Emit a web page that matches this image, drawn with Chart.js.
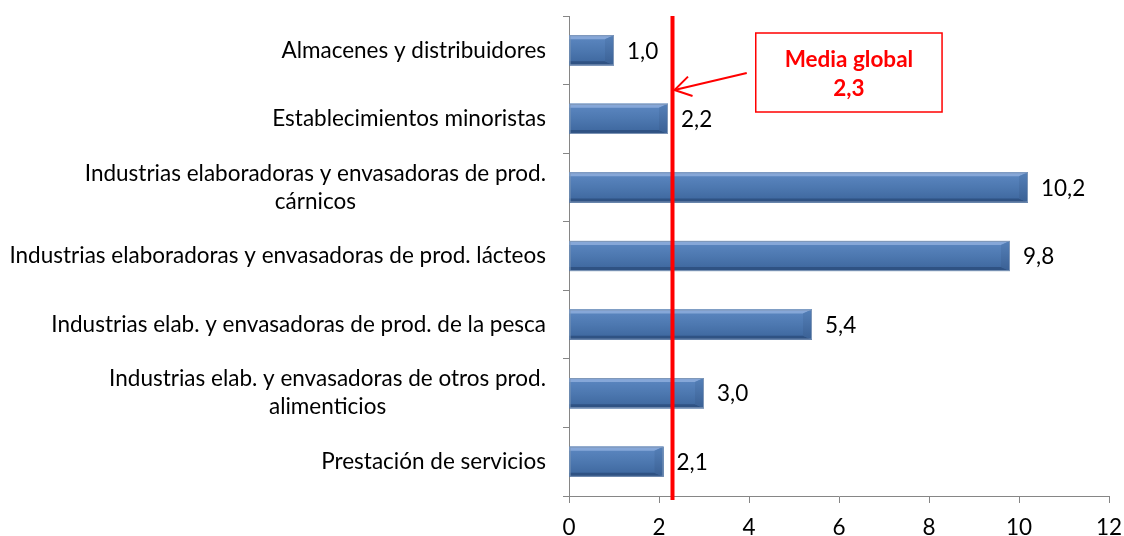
<!DOCTYPE html>
<html>
<head>
<meta charset="utf-8">
<script src="https://cdn.jsdelivr.net/npm/chart.js@4.4.1/dist/chart.umd.min.js"></script>
<style>
  html, body { margin: 0; padding: 0; background: #ffffff; }
  #wrap { width: 1124px; height: 536px; }
</style>
</head>
<body>
<div id="wrap"><canvas id="c" width="1124" height="536"></canvas></div>
<script>
// ---- data ----
const categories = [
  ['Almacenes y distribuidores'],
  ['Establecimientos minoristas'],
  ['Industrias elaboradoras y envasadoras de prod.', 'cárnicos'],
  ['Industrias elaboradoras y envasadoras de prod. lácteos'],
  ['Industrias elab. y envasadoras de prod. de la pesca'],
  ['Industrias elab. y envasadoras de otros prod.', 'alimenticios'],
  ['Prestación de servicios']
];
const values = [1.0, 2.2, 10.2, 9.8, 5.4, 3.0, 2.1];
const valueLabels = ['1,0', '2,2', '10,2', '9,8', '5,4', '3,0', '2,1'];
const xTickValues = [0, 2, 4, 6, 8, 10, 12];
const mediaGlobal = 2.3;
const mediaText = ['Media global', '2,3'];

const FONT = 'Lato, "Open Sans", sans-serif';
const FS = 22.5;

const barStyle = {
  id: 'barStyle',
  afterDatasetsDraw(chart) {
    const ctx = chart.ctx;
    const meta = chart.getDatasetMeta(0);
    meta.data.forEach((bar, i) => {
      const { x, y, base, height } = bar.getProps(['x', 'y', 'base', 'height'], true);
      const top = y - height / 2, bot = y + height / 2;
      const left = Math.min(base, x), right = Math.max(base, x);
      const bv = 4, bh = Math.min(9, (right - left) / 3);
      ctx.save();
      // main face
      const g = ctx.createLinearGradient(0, top, 0, bot);
      g.addColorStop(0, '#5d88c2');
      g.addColorStop(0.5, '#4d78b0');
      g.addColorStop(1, '#3c659c');
      ctx.fillStyle = g;
      ctx.fillRect(left, top, right - left, height);
      // top bevel
      ctx.beginPath();
      ctx.moveTo(left, top); ctx.lineTo(right, top);
      ctx.lineTo(right - bh, top + bv); ctx.lineTo(left, top + bv); ctx.closePath();
      ctx.fillStyle = '#86a7d8'; ctx.fill();
      // bottom bevel
      ctx.beginPath();
      ctx.moveTo(left, bot); ctx.lineTo(right, bot);
      ctx.lineTo(right - bh, bot - bv); ctx.lineTo(left, bot - bv); ctx.closePath();
      ctx.fillStyle = '#2f5283'; ctx.fill();
      // right bevel
      ctx.beginPath();
      ctx.moveTo(right, top); ctx.lineTo(right, bot);
      ctx.lineTo(right - bh, bot - bv); ctx.lineTo(right - bh, top + bv); ctx.closePath();
      const gr = ctx.createLinearGradient(0, top, 0, bot);
      gr.addColorStop(0, '#5580b8'); gr.addColorStop(1, '#3a6094');
      ctx.fillStyle = gr; ctx.fill();
      // outline
      ctx.strokeStyle = '#7f97b8';
      ctx.lineWidth = 1;
      ctx.strokeRect(left + 0.5, top + 0.5, right - left - 1, height - 1);
      ctx.restore();

      // value label
      ctx.save();
      ctx.font = FS + 'px ' + FONT;
      ctx.fillStyle = '#000';
      ctx.textAlign = 'left';
      ctx.textBaseline = 'middle';
      ctx.fillText(valueLabels[i], right + 13, y + 1);
      ctx.restore();
    });
  }
};

const catLabels = {
  id: 'catLabels',
  afterDraw(chart) {
    const ctx = chart.ctx;
    const ys = chart.scales.y;
    const rightEdge = ys.right - 23;
    ctx.save();
    ctx.font = FS + 'px ' + FONT;
    ctx.fillStyle = '#000';
    ctx.textBaseline = 'middle';
    categories.forEach((lines, i) => {
      const cy = ys.getPixelForValue(i);
      const widths = lines.map(l => ctx.measureText(l).width);
      const w = Math.max(...widths);
      const cx = rightEdge - w / 2;
      const lh = 28;
      lines.forEach((l, k) => {
        const ly = cy + (k - (lines.length - 1) / 2) * lh;
        ctx.textAlign = 'center';
        ctx.fillText(l, cx, ly);
      });
    });
    ctx.restore();
  }
};

const mediaLine = {
  id: 'mediaLine',
  afterDraw(chart) {
    const ctx = chart.ctx;
    const xs = chart.scales.x;
    const area = chart.chartArea;
    const lx = xs.getPixelForValue(mediaGlobal);
    ctx.save();
    ctx.strokeStyle = '#ff0000';
    ctx.lineWidth = 4;
    ctx.beginPath();
    ctx.moveTo(lx, area.top);
    ctx.lineTo(lx, area.bottom + 4);
    ctx.stroke();

    // annotation box
    const bx1 = xs.getPixelForValue(4.15), bx2 = xs.getPixelForValue(8.29);
    const by1 = area.top + 17, by2 = area.top + 96;
    ctx.fillStyle = '#ffffff';
    ctx.fillRect(bx1, by1, bx2 - bx1, by2 - by1);
    ctx.lineWidth = 1.5;
    ctx.strokeRect(bx1, by1, bx2 - bx1, by2 - by1);
    ctx.fillStyle = '#ff0000';
    ctx.font = 'bold ' + FS + 'px ' + FONT;
    ctx.textAlign = 'center';
    ctx.textBaseline = 'middle';
    const tcx = (bx1 + bx2) / 2;
    ctx.fillText(mediaText[0], tcx, area.top + 44);
    ctx.fillText(mediaText[1], tcx, area.top + 73);

    // arrow
    const ax1 = bx1 - 9, ay1 = area.top + 57;
    const ax2 = lx + 2, ay2 = area.top + 74;
    ctx.lineWidth = 2;
    ctx.beginPath();
    ctx.moveTo(ax1, ay1);
    ctx.lineTo(ax2, ay2);
    ctx.stroke();
    const ang = Math.atan2(ay2 - ay1, ax2 - ax1);
    const L = 19, spread = 0.55;
    ctx.beginPath();
    ctx.moveTo(ax2 - L * Math.cos(ang - spread), ay2 - L * Math.sin(ang - spread));
    ctx.lineTo(ax2, ay2);
    ctx.lineTo(ax2 - L * Math.cos(ang + spread), ay2 - L * Math.sin(ang + spread));
    ctx.stroke();
    ctx.restore();
  }
};

new Chart(document.getElementById('c'), {
  type: 'bar',
  data: {
    labels: categories,
    datasets: [{
      data: values,
      backgroundColor: '#4f81bd',
      borderWidth: 0,
      barPercentage: 0.44,
      categoryPercentage: 1.0
    }]
  },
  options: {
    indexAxis: 'y',
    responsive: false,
    animation: false,
    events: [],
    layout: { padding: { top: 16, right: 15, left: 0, bottom: 0 } },
    plugins: { legend: { display: false }, tooltip: { enabled: false } },
    scales: {
      x: {
        min: 0, max: 12,
        afterBuildTicks(scale) { scale.ticks = xTickValues.map(v => ({ value: v })); },
        afterFit(scale) { scale.height = 40; scale.paddingLeft = 0; scale.paddingRight = 0; },
        border: { display: true, color: '#868686', width: 1 },
        grid: { drawOnChartArea: false, drawTicks: true, tickLength: 7, color: '#868686' },
        ticks: { color: '#000', font: { family: FONT, size: FS }, padding: 11 }
      },
      y: {
        afterFit(scale) { scale.width = 569; },
        border: { display: true, color: '#868686', width: 1 },
        grid: { offset: true, drawOnChartArea: false, drawTicks: true, tickLength: 6, color: '#868686' },
        ticks: { display: false }
      }
    }
  },
  plugins: [barStyle, catLabels, mediaLine]
});
</script>
</body>
</html>
